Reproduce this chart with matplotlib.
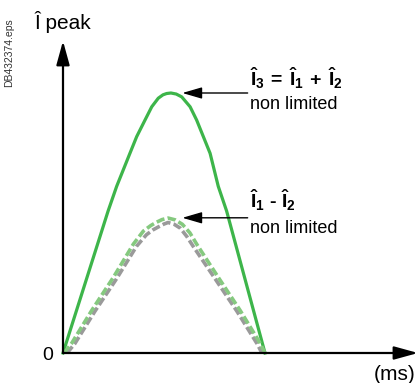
import matplotlib
matplotlib.use("Agg")
import matplotlib.pyplot as plt

plt.rcParams['font.family'] = ['Liberation Sans', 'DejaVu Sans']
plt.rcParams['mathtext.fontset'] = 'custom'
plt.rcParams['mathtext.rm'] = 'Liberation Sans'
plt.rcParams['mathtext.bf'] = 'Liberation Sans:bold'

# peak current vs time (ms), arbitrary units (I3 peak = 100)
t_sum = [0, 2.21, 2.63, 3.28, 3.61, 4.02, 4.35, 4.67, 4.90, 5.08, 5.29, 5.55, 5.82,
         6.23, 6.55, 6.88, 7.21, 7.61, 8.02, 9.90]
i_sum = [0, 54.6, 64.1, 76.8, 83.2, 89.6, 94.7, 98.0, 99.3, 99.8, 100, 99.6, 98.5,
         94.7, 89.6, 83.2, 76.8, 64.1, 54.6, 0]

t_diff_a = [0.05, 0.43, 1.41, 2.47, 3.45, 3.94, 4.30, 4.56, 4.85, 5.15, 5.50, 5.85,
            6.22, 6.55, 7.61, 8.68, 9.66, 9.90]
i_diff_a = [0, 3.8, 16.4, 29.1, 41.9, 46.9, 49.0, 50.2, 51.3, 51.9, 51.2, 49.5,
            46.2, 41.9, 29.1, 16.4, 3.8, 0]

t_diff_b = [0.20, 0.58, 1.56, 2.62, 3.60, 4.09, 4.42, 4.70, 4.95, 5.15, 5.45, 5.75,
            6.07, 6.40, 7.46, 8.53, 9.51, 9.75]
i_diff_b = [0, 3.6, 16.0, 28.5, 41.0, 45.5, 47.4, 48.6, 49.6, 50.2, 49.5, 48.0,
            44.8, 40.8, 28.5, 16.0, 3.6, 0]

label_sum = r"$\mathbf{\hat{I}_3\,=\,\hat{I}_1\,+\,\hat{I}_2}$"
label_diff = r"$\mathbf{\hat{I}_1}$ - $\mathbf{\hat{I}_2}$"
sub_label = "non limited"

GREEN = "#3db54a"
LIGHT_GREEN = "#85c97f"
GREY = "#9a9a9a"

fig = plt.figure(figsize=(4.2, 3.83), dpi=100)
ax = fig.add_axes([63 / 420, 30 / 383, 355 / 420, 312 / 383])
ax.set_xlim(0, 17.4)
ax.set_ylim(0, 120)
ax.axis('off')

# axes with arrow heads
arrow = dict(arrowstyle='-|>,head_length=1.45,head_width=0.4', color='black', lw=1.6,
             shrinkA=0, shrinkB=0)
ax.annotate('', xy=(0, 1), xytext=(0, 0), xycoords='axes fraction', arrowprops=arrow)
ax.annotate('', xy=(1, 0), xytext=(0, 0), xycoords='axes fraction', arrowprops=arrow)

ax.plot(t_sum, i_sum, color=GREEN, lw=2.3, clip_on=False, solid_joinstyle='round')
ax.plot(t_diff_b, i_diff_b, color=GREY, lw=2.6, dashes=(2.3, 0.9), dash_capstyle='butt',
        clip_on=False)
ax.plot(t_diff_a, i_diff_a, color=LIGHT_GREEN, lw=2.6, dashes=(2.3, 0.9), dash_capstyle='butt',
        clip_on=False)

# labels with pointers
pointer = dict(arrowstyle='-|>,head_length=1.2,head_width=0.35', color='black', lw=1.0,
               shrinkA=0, shrinkB=0)
ax.annotate('', xy=(5.85, 100), xytext=(9.05, 100), arrowprops=pointer)
ax.annotate('', xy=(5.85, 52), xytext=(9.05, 52), arrowprops=pointer)

ax.text(9.17, 102.8, label_sum, fontsize=14, ha='left', va='baseline')
ax.text(9.17, 93.9, sub_label, fontsize=13, ha='left', va='baseline')
ax.text(9.17, 55.6, label_diff, fontsize=14, ha='left', va='baseline', fontweight='bold')
ax.text(9.17, 46.0, sub_label, fontsize=13, ha='left', va='baseline')

ax.text(-0.5, -1.0, "0", fontsize=14, ha='right', va='center')
ax.text(17.3, -8.3, "(ms)", fontsize=15, ha='right', va='center', clip_on=False)

fig.text(35 / 420, 1 - 22 / 383, "Î peak", fontsize=15, ha='left', va='center')
fig.text(9 / 420, 1 - 53 / 383, "DB432374.eps", fontsize=7.5, rotation=90,
         ha='center', va='center', color='#333333')

fig.savefig("out.png", dpi=100)
